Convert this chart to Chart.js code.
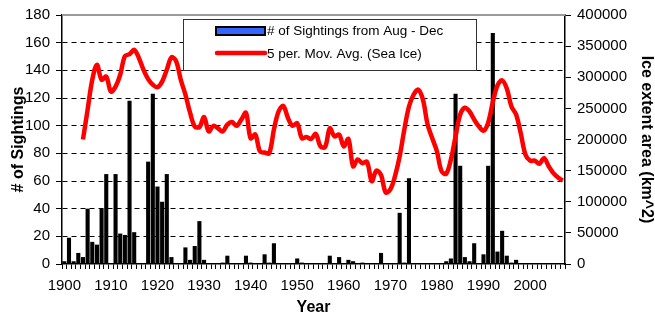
<!DOCTYPE html>
<html>
<head>
<meta charset="utf-8">
<script src="https://cdn.jsdelivr.net/npm/chart.js@4.4.0/dist/chart.umd.min.js"></script>
<style>
  html, body { margin: 0; padding: 0; background: #fff; }
  #wrap { width: 655px; height: 320px; }
</style>
</head>
<body>
<div id="wrap"><canvas id="sightings-chart" width="655" height="320"></canvas></div>
<script>
// years 1900 - 2007
const years = [];
for (let y = 1900; y <= 2007; y++) years.push(String(y));

// # of sightings from Aug - Dec (left axis)
const sightings = [
    2, 19, 2, 8, 5, 40, 16, 14, 40, 65,      // 1900s
    0, 65, 22, 21, 118, 23, 0, 0, 74, 123,   // 1910s
    56, 45, 65, 5, 0, 0, 12, 3, 13, 31,      // 1920s
    3, 0, 0, 0, 1, 6, 0, 0, 0, 6,            // 1930s
    1, 0, 0, 7, 1, 15, 0, 0, 0, 0,           // 1940s
    4, 1, 0, 0, 0, 0, 0, 6, 0, 5,            // 1950s
    0, 3, 2, 0, 1, 0, 0, 0, 8, 0,            // 1960s
    0, 0, 37, 1, 62, 0, 0, 0, 0, 0,          // 1970s
    0, 0, 2, 4, 123, 71, 5, 2, 15, 0,        // 1980s
    7, 71, 167, 9, 24, 6, 1, 3, 0, 0,        // 1990s
    0, 0, 0, 0, 0, 0, 0, 0                   // 2000s
];

// 5 period moving average of sea ice extent (right axis)
const iceAvg = [
    null, null, null, null, 200000, 248000, 296000, 320000, 296000, 301000,
    277000, 285000, 304000, 334000, 337000, 344000, 331000, 312000, 297000, 288000,
    284000, 293000, 312000, 332000, 326000, 296000, 272000, 243000, 221000, 220000,
    236000, 213000, 222000, 218000, 213000, 224000, 228000, 222000, 232000, 243000,
    202000, 208000, 181000, 179000, 178000, 216000, 245000, 254000, 235000, 222000,
    226000, 202000, 204000, 201000, 209000, 189000, 188000, 218000, 205000, 208000,
    189000, 201000, 157000, 168000, 162000, 164000, 133000, 150000, 143000, 115000,
    120000, 141000, 173000, 216000, 253000, 272000, 280000, 264000, 224000, 202000,
    181000, 149000, 145000, 168000, 205000, 240000, 251000, 245000, 232000, 221000,
    214000, 227000, 260000, 287000, 295000, 282000, 253000, 240000, 210000, 176000,
    166000, 166000, 161000, 170000, 157000, 146000, 139000, 134000
];

const sightingsLabel = '# of Sightings from Aug - Dec';
const iceLabel = '5 per. Mov. Avg. (Sea Ice)';

const FONT = "'Liberation Sans', Arial, sans-serif";

// legend box + grey top edge of the plot area
const frameAndLegend = {
    id: 'frameAndLegend',
    afterDraw(chart) {
        const ctx = chart.ctx;
        const area = chart.chartArea;
        ctx.save();
        ctx.strokeStyle = '#9a9a9a';
        ctx.lineWidth = 2;
        ctx.beginPath();
        ctx.moveTo(area.left, area.top);
        ctx.lineTo(area.right, area.top);
        ctx.stroke();

        // legend
        const bx = 183, by = 19, bw = 293, bh = 51;
        ctx.fillStyle = '#fff';
        ctx.fillRect(bx, by, bw, bh);
        ctx.strokeStyle = '#333';
        ctx.lineWidth = 1;
        ctx.strokeRect(bx + 0.5, by + 0.5, bw, bh);

        ctx.fillStyle = '#3366ff';
        ctx.fillRect(216, 27, 49, 8);
        ctx.strokeStyle = '#000';
        ctx.lineWidth = 2;
        ctx.strokeRect(216, 27, 49, 8);

        ctx.strokeStyle = '#ff0000';
        ctx.lineWidth = 4.5;
        ctx.lineCap = 'round';
        ctx.beginPath();
        ctx.moveTo(217, 53);
        ctx.lineTo(265, 53);
        ctx.stroke();

        ctx.fillStyle = '#000';
        ctx.font = '13.5px ' + FONT;
        ctx.textBaseline = 'middle';
        ctx.textAlign = 'left';
        ctx.fillText(sightingsLabel, 267, 31);
        ctx.fillText(iceLabel, 267, 54);
        ctx.restore();
    }
};

const ctx = document.getElementById('sightings-chart');

new Chart(ctx, {
    type: 'bar',
    data: {
        labels: years,
        datasets: [{
            type: 'line',
            label: iceLabel,
            data: iceAvg,
            yAxisID: 'y1',
            borderColor: '#ff0000',
            backgroundColor: '#ff0000',
            borderWidth: 4.5,
            pointRadius: 0,
            tension: 0.35,
            fill: false,
            order: 0
        }, {
            type: 'bar',
            label: sightingsLabel,
            data: sightings,
            yAxisID: 'y',
            backgroundColor: '#000',
            borderWidth: 0,
            barPercentage: 0.88,
            categoryPercentage: 1,
            order: 1
        }]
    },
    options: {
        responsive: false,
        animation: false,
        layout: { padding: { top: 15, left: 0, right: 0, bottom: 0 } },
        plugins: {
            legend: { display: false },
            tooltip: { enabled: false }
        },
        scales: {
            x: {
                offset: true,
                grid: {
                    offset: true,
                    drawOnChartArea: false,
                    color: '#000',
                    tickLength: 5
                },
                border: { color: '#000', width: 1.5 },
                ticks: {
                    autoSkip: false,
                    maxRotation: 0,
                    minRotation: 0,
                    padding: 8,
                    color: '#000',
                    font: { family: FONT, size: 15 },
                    callback: function(value, index) {
                        const y = Number(years[index]);
                        return y % 10 === 0 ? String(y) : '';
                    }
                },
                title: {
                    display: true,
                    text: 'Year',
                    color: '#000',
                    font: { family: FONT, size: 16, weight: 'bold' },
                    padding: { top: 0, bottom: 3 }
                },
                afterFit: function(scale) { scale.height = 56; }
            },
            y: {
                position: 'left',
                min: 0,
                max: 180,
                ticks: {
                    stepSize: 20,
                    padding: 6,
                    color: '#000',
                    font: { family: FONT, size: 15 }
                },
                grid: {
                    color: function(c) {
                        if (c.tick && (c.tick.value === 0 || c.tick.value === 180)) return 'rgba(0,0,0,0)';
                        return '#000';
                    },
                    tickColor: '#000',
                    tickLength: 6,
                    lineWidth: 1
                },
                border: { color: '#000', width: 1.5, dash: [5, 4] },
                title: {
                    display: true,
                    text: '# of Sightings',
                    color: '#000',
                    font: { family: FONT, size: 16, weight: 'bold' },
                    padding: { top: 9, bottom: 0 }
                },
                afterFit: function(scale) { scale.width = 62; }
            },
            y1: {
                position: 'right',
                min: 0,
                max: 400000,
                ticks: {
                    stepSize: 50000,
                    padding: 6,
                    color: '#000',
                    font: { family: FONT, size: 15 },
                    callback: function(value) { return String(value); }
                },
                grid: {
                    drawOnChartArea: false,
                    color: '#000',
                    tickLength: 6
                },
                border: { color: '#000', width: 1.5 },
                title: {
                    display: true,
                    text: 'Ice extent area (km^2)',
                    color: '#000',
                    font: { family: FONT, size: 16, weight: 'bold' },
                    padding: { top: -1, bottom: 0 }
                },
                afterFit: function(scale) { scale.width = 90; }
            }
        }
    },
    plugins: [frameAndLegend]
});
</script>
</body>
</html>
